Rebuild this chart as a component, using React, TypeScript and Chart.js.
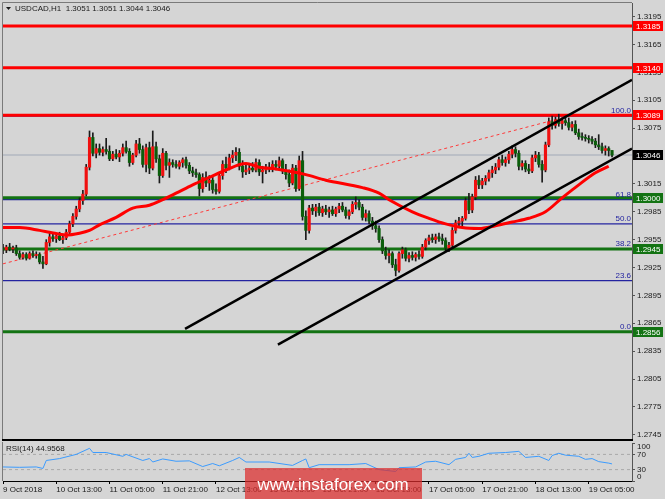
import React, { useEffect, useRef } from "react";
import { Chart, registerables } from "chart.js";

Chart.register(...registerables);

const FONT = '"Liberation Sans", Arial, sans-serif';
Chart.defaults.font.family = FONT;
Chart.defaults.font.size = 8;
Chart.defaults.color = "#1a1a1a";

// ---------------- DATA ----------------
const symbol = "USDCAD,H1";

const opens = [
  1.2946, 1.2944, 1.2947, 1.2945, 1.2946, 1.2940, 1.2936, 1.2939, 1.2935, 1.2940,
  1.2938, 1.2939, 1.2931, 1.2929, 1.2952, 1.2958, 1.2956, 1.2959, 1.2955, 1.2957,
  1.2963, 1.2972, 1.2980, 1.2988, 1.2997, 1.3004, 1.3033, 1.3065, 1.3048, 1.3053,
  1.3049, 1.3052, 1.3050, 1.3042, 1.3047, 1.3044, 1.3048, 1.3054, 1.3050, 1.3038,
  1.3046, 1.3058, 1.3052, 1.3036, 1.3054, 1.3032, 1.3055, 1.3042, 1.3024, 1.3048,
  1.3035, 1.3038, 1.3036, 1.3034, 1.3038, 1.3041, 1.3035, 1.3029, 1.3027, 1.3025,
  1.3010, 1.3022, 1.3016, 1.3019, 1.3009, 1.3007, 1.3024, 1.3036, 1.3032, 1.3043,
  1.3046, 1.3049, 1.3034, 1.3028, 1.3030, 1.3032, 1.3030, 1.3038, 1.3028, 1.3030,
  1.3033, 1.3031, 1.3036, 1.3034, 1.3040, 1.3029, 1.3025, 1.3016, 1.3032, 1.3010,
  1.3040, 1.2980, 1.2965, 1.2989, 1.2986, 1.2990, 1.2984, 1.2988, 1.2985, 1.2987,
  1.2983, 1.2988, 1.2991, 1.2987, 1.2981, 1.2985, 1.2993, 1.2995, 1.2990, 1.2979,
  1.2983, 1.2975, 1.2970, 1.2967, 1.2955, 1.2943, 1.2938, 1.2940, 1.2928, 1.2922,
  1.2940, 1.2944, 1.2935, 1.2938, 1.2936, 1.2939, 1.2937, 1.2947, 1.2954, 1.2957,
  1.2955, 1.2958, 1.2956, 1.2954, 1.2946, 1.2949, 1.2965, 1.2973, 1.2975, 1.2978,
  1.2997, 1.2987, 1.3001, 1.3019, 1.3014, 1.3018, 1.3021, 1.3027, 1.3030, 1.3033,
  1.3041, 1.3038, 1.3041, 1.3047, 1.3052, 1.3048, 1.3034, 1.3037, 1.3031, 1.3029,
  1.3043, 1.3046, 1.3036, 1.3030, 1.3057, 1.3082, 1.3078, 1.3084, 1.3080, 1.3083,
  1.3081, 1.3076, 1.3079, 1.3070, 1.3066, 1.3065, 1.3064, 1.3063, 1.3061, 1.3057,
  1.3055, 1.3051, 1.3053, 1.3051,
];
const highs = [
  1.2950, 1.2949, 1.2951, 1.2948, 1.2949, 1.2943, 1.2941, 1.2941, 1.2942, 1.2943,
  1.2942, 1.2941, 1.2937, 1.2955, 1.2962, 1.2962, 1.2961, 1.2963, 1.2960, 1.2966,
  1.2975, 1.2983, 1.2991, 1.3000, 1.3008, 1.3036, 1.3072, 1.3070, 1.3058, 1.3058,
  1.3055, 1.3064, 1.3056, 1.3050, 1.3052, 1.3051, 1.3058, 1.3061, 1.3053, 1.3048,
  1.3062, 1.3064, 1.3056, 1.3058, 1.3060, 1.3072, 1.3060, 1.3046, 1.3053, 1.3050,
  1.3042, 1.3041, 1.3040, 1.3040, 1.3043, 1.3044, 1.3038, 1.3033, 1.3031, 1.3027,
  1.3026, 1.3028, 1.3024, 1.3022, 1.3015, 1.3027, 1.3040, 1.3044, 1.3047, 1.3051,
  1.3054, 1.3053, 1.3040, 1.3035, 1.3036, 1.3038, 1.3042, 1.3041, 1.3034, 1.3036,
  1.3038, 1.3040, 1.3040, 1.3044, 1.3042, 1.3036, 1.3030, 1.3036, 1.3035, 1.3045,
  1.3050, 1.2986, 1.2992, 1.2993, 1.2993, 1.2994, 1.2991, 1.2992, 1.2990, 1.2991,
  1.2990, 1.2994, 1.2995, 1.2990, 1.2987, 1.2996, 1.3001, 1.2998, 1.2993, 1.2987,
  1.2986, 1.2979, 1.2975, 1.2970, 1.2958, 1.2947, 1.2944, 1.2942, 1.2934, 1.2942,
  1.2947, 1.2946, 1.2941, 1.2942, 1.2941, 1.2943, 1.2950, 1.2956, 1.2960, 1.2961,
  1.2961, 1.2962, 1.2961, 1.2957, 1.2952, 1.2968, 1.2976, 1.2979, 1.2980, 1.3000,
  1.3005, 1.3004, 1.3023, 1.3024, 1.3021, 1.3024, 1.3030, 1.3034, 1.3037, 1.3044,
  1.3046, 1.3044, 1.3050, 1.3056, 1.3055, 1.3051, 1.3040, 1.3040, 1.3036, 1.3046,
  1.3050, 1.3049, 1.3040, 1.3060, 1.3086, 1.3088, 1.3087, 1.3090, 1.3086, 1.3088,
  1.3086, 1.3082, 1.3083, 1.3074, 1.3070, 1.3068, 1.3067, 1.3066, 1.3064, 1.3068,
  1.3059, 1.3056, 1.3055, 1.3051,
];
const lows = [
  1.2940, 1.2941, 1.2943, 1.2941, 1.2938, 1.2934, 1.2934, 1.2933, 1.2934, 1.2936,
  1.2935, 1.2929, 1.2924, 1.2928, 1.2948, 1.2953, 1.2952, 1.2954, 1.2951, 1.2955,
  1.2960, 1.2969, 1.2977, 1.2985, 1.2993, 1.3002, 1.3030, 1.3045, 1.3043, 1.3046,
  1.3045, 1.3047, 1.3040, 1.3040, 1.3042, 1.3039, 1.3045, 1.3048, 1.3034, 1.3036,
  1.3044, 1.3048, 1.3033, 1.3028, 1.3026, 1.3030, 1.3038, 1.3016, 1.3022, 1.3030,
  1.3022, 1.3033, 1.3032, 1.3031, 1.3033, 1.3032, 1.3026, 1.3023, 1.3022, 1.3002,
  1.3006, 1.3012, 1.3008, 1.3005, 1.3004, 1.3005, 1.3020, 1.3027, 1.3030, 1.3038,
  1.3040, 1.3030, 1.3022, 1.3025, 1.3026, 1.3028, 1.3028, 1.3024, 1.3016, 1.3026,
  1.3028, 1.3028, 1.3030, 1.3030, 1.3026, 1.3020, 1.3012, 1.3014, 1.3007, 1.3008,
  1.2976, 1.2955, 1.2962, 1.2982, 1.2980, 1.2981, 1.2980, 1.2982, 1.2979, 1.2981,
  1.2980, 1.2984, 1.2985, 1.2978, 1.2977, 1.2983, 1.2988, 1.2987, 1.2976, 1.2975,
  1.2972, 1.2966, 1.2963, 1.2952, 1.2940, 1.2934, 1.2930, 1.2925, 1.2916, 1.2920,
  1.2935, 1.2932, 1.2931, 1.2933, 1.2932, 1.2934, 1.2935, 1.2944, 1.2950, 1.2952,
  1.2951, 1.2953, 1.2950, 1.2943, 1.2942, 1.2947, 1.2962, 1.2968, 1.2970, 1.2976,
  1.2983, 1.2984, 1.2998, 1.3010, 1.3010, 1.3014, 1.3018, 1.3022, 1.3026, 1.3030,
  1.3035, 1.3034, 1.3037, 1.3043, 1.3044, 1.3030, 1.3030, 1.3028, 1.3026, 1.3027,
  1.3039, 1.3033, 1.3017, 1.3028, 1.3055, 1.3074, 1.3075, 1.3077, 1.3074, 1.3078,
  1.3073, 1.3072, 1.3068, 1.3063, 1.3062, 1.3061, 1.3059, 1.3058, 1.3054, 1.3052,
  1.3048, 1.3046, 1.3045, 1.3044,
];
const closes = [
  1.2944, 1.2947, 1.2945, 1.2946, 1.2940, 1.2936, 1.2939, 1.2935, 1.2940, 1.2938,
  1.2939, 1.2931, 1.2929, 1.2952, 1.2958, 1.2956, 1.2959, 1.2955, 1.2957, 1.2963,
  1.2972, 1.2980, 1.2988, 1.2997, 1.3004, 1.3033, 1.3065, 1.3048, 1.3053, 1.3049,
  1.3052, 1.3050, 1.3042, 1.3047, 1.3044, 1.3048, 1.3054, 1.3050, 1.3038, 1.3046,
  1.3058, 1.3052, 1.3036, 1.3054, 1.3032, 1.3055, 1.3042, 1.3024, 1.3048, 1.3035,
  1.3038, 1.3036, 1.3034, 1.3038, 1.3041, 1.3035, 1.3029, 1.3027, 1.3025, 1.3010,
  1.3022, 1.3016, 1.3019, 1.3009, 1.3007, 1.3024, 1.3036, 1.3032, 1.3043, 1.3046,
  1.3049, 1.3034, 1.3028, 1.3030, 1.3032, 1.3030, 1.3038, 1.3028, 1.3030, 1.3033,
  1.3031, 1.3036, 1.3034, 1.3040, 1.3029, 1.3025, 1.3016, 1.3032, 1.3010, 1.3040,
  1.2980, 1.2965, 1.2989, 1.2986, 1.2990, 1.2984, 1.2988, 1.2985, 1.2987, 1.2983,
  1.2988, 1.2991, 1.2987, 1.2981, 1.2985, 1.2993, 1.2995, 1.2990, 1.2979, 1.2983,
  1.2975, 1.2970, 1.2967, 1.2955, 1.2943, 1.2938, 1.2940, 1.2928, 1.2922, 1.2940,
  1.2944, 1.2935, 1.2938, 1.2936, 1.2939, 1.2937, 1.2947, 1.2954, 1.2957, 1.2955,
  1.2958, 1.2956, 1.2954, 1.2946, 1.2949, 1.2965, 1.2973, 1.2975, 1.2978, 1.2997,
  1.2987, 1.3001, 1.3019, 1.3014, 1.3018, 1.3021, 1.3027, 1.3030, 1.3033, 1.3041,
  1.3038, 1.3041, 1.3047, 1.3052, 1.3048, 1.3034, 1.3037, 1.3031, 1.3029, 1.3043,
  1.3046, 1.3036, 1.3030, 1.3057, 1.3082, 1.3078, 1.3084, 1.3080, 1.3083, 1.3081,
  1.3076, 1.3079, 1.3070, 1.3066, 1.3065, 1.3064, 1.3063, 1.3061, 1.3057, 1.3055,
  1.3051, 1.3053, 1.3051, 1.3046,
];

const timeTickIdx = [0, 16, 32, 48, 64, 80, 96, 112, 128, 144, 160, 176];
const timeLabels = [
  "9 Oct 2018", "10 Oct 13:00", "11 Oct 05:00", "11 Oct 21:00", "12 Oct 13:00", "15 Oct 05:00",
  "15 Oct 21:00", "16 Oct 13:00", "17 Oct 05:00", "17 Oct 21:00", "18 Oct 13:00", "19 Oct 05:00",
];

const priceTicks = [
  1.2745, 1.2775, 1.2805, 1.2835, 1.2865, 1.2895, 1.2925, 1.2955, 1.2985, 1.3015,
  1.3075, 1.3105, 1.3135, 1.3165, 1.3195,
];

const redLevels = [1.3185, 1.3140, 1.3089];
const greenLevels = [1.3000, 1.2945, 1.2856];
const fibLevels = [1.3088, 1.2998, 1.2972, 1.2945, 1.2911, 1.2856];
const fibLabels = ["100.0", "61.8", "50.0", "38.2", "23.6", "0.0"];
const bidPrice = 1.3046;

const maIdx = [0, 5, 11, 14, 19, 23, 26, 29, 34, 39, 44, 48, 52, 57, 62, 67, 73, 77, 82, 87, 91, 97, 108, 113, 116, 123, 128, 133, 138, 143, 148, 153, 158, 163, 168, 173, 178, 182];
const maVal = [1.2968, 1.2968, 1.2965, 1.2963, 1.2960, 1.2962, 1.2965, 1.2971, 1.2979, 1.2989, 1.2992, 1.2998, 1.3005, 1.3014, 1.3022, 1.3030, 1.3037, 1.3033, 1.3031, 1.3028, 1.3025, 1.3019, 1.3011, 1.3005, 1.2998, 1.2985, 1.2978, 1.2972, 1.2968, 1.2967, 1.2970, 1.2974, 1.2978, 1.2985, 1.3000, 1.3014, 1.3027, 1.3034];

const upperChannelIdx = [54.7, 189];
const upperChannelVal = [1.2859, 1.3127];
const lowerChannelIdx = [82.6, 189];
const lowerChannelVal = [1.2842, 1.3053];
const fibTrendIdx = [0, 168];
const fibTrendVal = [1.2929, 1.3086];

const rsiIdx = [0, 5, 10, 12, 13, 17, 22, 26, 27, 31, 36, 37, 42, 44, 45, 48, 52, 56, 60, 63, 65, 69, 71, 73, 80, 87, 90, 91, 92, 95, 104, 109, 113, 118, 119, 124, 127, 130, 134, 136, 139, 140, 141, 143, 146, 151, 155, 157, 161, 164, 165, 167, 169, 173, 175, 177, 179, 182, 183];
const rsiVal = [37, 36, 37, 33, 54, 59, 70, 86, 75, 75, 65, 70, 54, 59, 50, 58, 52, 53, 38, 46, 40, 54, 62, 50, 50, 41, 54, 58, 35, 43, 43, 46, 30, 25, 35, 37, 50, 52, 43, 57, 62, 73, 62, 65, 73, 75, 78, 62, 65, 54, 67, 73, 68, 65, 57, 59, 51, 47, 44.96];
const rsiLevels = [70, 30];
const rsiTicks = [100, 70, 30, 0];
const rsiTitle = "RSI(14) 44.9568";
const watermark = "www.instaforex.com";

// ---------------- STYLE ----------------
const BG = "#d5d5d5";
const UP = "#f01010";
const DOWN = "#0b5e0b";
const WICK = "#1a1a1a";
const RED = "#ff0000";
const GREEN = "#137313";
const FIB = "#2424a0";
const AXIS = "#555555";
const X_MIN = 0;
const X_MAX = 189;
const Y_MIN = 1.27394;
const Y_MAX = 1.32097;

const pts = (xs: number[], ys: number[]) => xs.map((x, i) => ({ x, y: ys[i] }));
const hl = (v: number) => [{ x: X_MIN, y: v }, { x: X_MAX, y: v }];
const lineDs = (label: string, data: any[], color: string, width: number, order: number, extra: any = {}) => ({
  type: "line",
  label,
  data,
  borderColor: color,
  borderWidth: width,
  pointRadius: 0,
  fill: false,
  order,
  ...extra,
});

const mainPlugin = {
  id: "mainDecor",
  beforeDraw(chart: any) {
    const { ctx, width, height } = chart;
    ctx.save();
    ctx.fillStyle = BG;
    ctx.fillRect(0, 0, width, height);
    ctx.restore();
  },
  afterDatasetsDraw(chart: any) {
    const { ctx, chartArea } = chart;
    const ys = chart.scales.y;
    ctx.save();
    ctx.font = `8px ${FONT}`;
    ctx.fillStyle = FIB;
    ctx.textAlign = "right";
    ctx.textBaseline = "bottom";
    fibLevels.forEach((v, i) => {
      ctx.fillText(fibLabels[i], chartArea.right - 1, ys.getPixelForValue(v) - 1);
    });
    ctx.restore();
  },
  afterDraw(chart: any) {
    const { ctx, chartArea } = chart;
    const ys = chart.scales.y;
    ctx.save();
    // frame
    ctx.strokeStyle = "#7a7a7a";
    ctx.lineWidth = 1;
    ctx.beginPath();
    ctx.moveTo(2.5, chartArea.bottom);
    ctx.lineTo(2.5, 2.5);
    ctx.lineTo(chartArea.right, 2.5);
    ctx.stroke();
    ctx.strokeStyle = "#000";
    ctx.lineWidth = 2;
    ctx.beginPath();
    ctx.moveTo(2, chartArea.bottom);
    ctx.lineTo(chartArea.right + 1, chartArea.bottom);
    ctx.stroke();
    // price boxes
    ctx.font = `8px ${FONT}`;
    ctx.textBaseline = "middle";
    ctx.textAlign = "left";
    const box = (v: number, bg: string) => {
      const y = ys.getPixelForValue(v);
      ctx.fillStyle = bg;
      ctx.fillRect(chartArea.right + 1, Math.round(y) - 5, 30, 10);
      ctx.fillStyle = "#ffffff";
      ctx.fillText(v.toFixed(4), chartArea.right + 4, Math.round(y) + 0.5);
    };
    redLevels.forEach((v) => box(v, RED));
    greenLevels.forEach((v) => box(v, GREEN));
    box(bidPrice, "#000000");
    // header
    const last = closes.length - 1;
    ctx.fillStyle = "#1a1a1a";
    ctx.beginPath();
    ctx.moveTo(6, 7);
    ctx.lineTo(11, 7);
    ctx.lineTo(8.5, 10);
    ctx.closePath();
    ctx.fill();
    ctx.textBaseline = "middle";
    ctx.fillText(
      `${symbol}  ${opens[last].toFixed(4)} ${highs[last].toFixed(4)} ${lows[last].toFixed(4)} ${closes[last].toFixed(4)}`,
      15,
      8.5
    );
    ctx.restore();
  },
};

const rsiPlugin = {
  id: "rsiDecor",
  beforeDraw(chart: any) {
    const { ctx, width, height } = chart;
    ctx.save();
    ctx.fillStyle = BG;
    ctx.fillRect(0, 0, width, height);
    ctx.restore();
  },
  afterDraw(chart: any) {
    const { ctx, chartArea } = chart;
    const ys = chart.scales.y;
    ctx.save();
    ctx.strokeStyle = "#7a7a7a";
    ctx.lineWidth = 1;
    ctx.beginPath();
    ctx.moveTo(2.5, chartArea.bottom);
    ctx.lineTo(2.5, 0);
    ctx.stroke();
    ctx.font = `8px ${FONT}`;
    ctx.fillStyle = "#1a1a1a";
    ctx.textBaseline = "middle";
    ctx.textAlign = "left";
    ctx.fillText(rsiTitle, 6, 7);
    rsiTicks.forEach((v) => {
      const y = Math.min(Math.max(ys.getPixelForValue(v), chartArea.top + 4), chartArea.bottom - 4);
      ctx.fillText(String(v), chartArea.right + 5, y);
    });
    // watermark
    ctx.fillStyle = "rgba(222, 45, 45, 0.72)";
    ctx.fillRect(245, 26, 177, 31);
    ctx.fillStyle = "#ffffff";
    ctx.font = `17px ${FONT}`;
    ctx.textAlign = "center";
    ctx.textBaseline = "alphabetic";
    ctx.fillText(watermark, 333, 48);
    ctx.restore();
  },
};

function mainConfig(): any {
  const bodyColors = closes.map((c, i) => (c >= opens[i] ? UP : DOWN));
  const datasets: any[] = [
    lineDs("upper channel", pts(upperChannelIdx, upperChannelVal), "#000000", 2.5, 0),
    lineDs("lower channel", pts(lowerChannelIdx, lowerChannelVal), "#000000", 2.5, 0),
    lineDs("MA", pts(maIdx, maVal), RED, 3, 1, { tension: 0.4, cubicInterpolationMode: "monotone" }),
    {
      type: "bar",
      label: "bodies",
      data: opens.map((o, i) => ({ x: i, y: [o, closes[i]] })),
      backgroundColor: bodyColors,
      barThickness: 2.5,
      grouped: false,
      minBarLength: 1,
      order: 2,
    },
    {
      type: "bar",
      label: "wicks",
      data: lows.map((l, i) => ({ x: i, y: [l, highs[i]] })),
      backgroundColor: WICK,
      barThickness: 1,
      grouped: false,
      order: 3,
    },
    lineDs("fib trend", pts(fibTrendIdx, fibTrendVal), "#ff3a3a", 1, 4, { borderDash: [3, 3] }),
    ...redLevels.map((v) => lineDs("res " + v, hl(v), RED, 3, 5)),
    ...greenLevels.map((v) => lineDs("sup " + v, hl(v), GREEN, 3, 5)),
    ...fibLevels.map((v, i) => lineDs("fib " + fibLabels[i], hl(v), FIB, 1.2, 6)),
    lineDs("bid", hl(bidPrice), "#b2b7c0", 1.5, 7),
  ];
  return {
    type: "bar",
    data: { datasets },
    options: {
      responsive: false,
      maintainAspectRatio: false,
      animation: false,
      events: [],
      layout: { padding: { left: 3, top: 3, right: 0, bottom: 2 } },
      plugins: { legend: { display: false }, tooltip: { enabled: false } },
      scales: {
        x: {
          type: "linear",
          min: X_MIN,
          max: X_MAX,
          offset: false,
          bounds: "data",
          display: false,
          grid: { offset: false },
        },
        y: {
          type: "linear",
          position: "right",
          min: Y_MIN,
          max: Y_MAX,
          bounds: "data",
          afterFit: (s: any) => {
            s.width = 33;
            s.paddingTop = 0;
            s.paddingBottom = 0;
          },
          afterBuildTicks: (s: any) => {
            s.ticks = priceTicks.map((v) => ({ value: v }));
          },
          ticks: {
            autoSkip: false,
            padding: 2,
            color: "#1a1a1a",
            font: { family: FONT, size: 8 },
            callback: (v: any) => Number(v).toFixed(4),
          },
          grid: { drawOnChartArea: false, drawTicks: true, tickLength: 3, color: AXIS },
          border: { display: true, color: AXIS, width: 1 },
        },
      },
    },
    plugins: [mainPlugin],
  };
}

function rsiConfig(): any {
  const datasets: any[] = [
    lineDs("RSI", pts(rsiIdx, rsiVal), "#3c9cff", 1, 0),
    ...rsiLevels.map((v) => lineDs("lvl " + v, hl(v), "#a9a9a9", 1, 1, { borderDash: [3, 3] })),
  ];
  return {
    type: "line",
    data: { datasets },
    options: {
      responsive: false,
      maintainAspectRatio: false,
      animation: false,
      events: [],
      layout: { padding: { left: 3, top: 1, right: 0, bottom: 0 } },
      plugins: { legend: { display: false }, tooltip: { enabled: false } },
      scales: {
        x: {
          type: "linear",
          min: X_MIN,
          max: X_MAX,
          offset: false,
          bounds: "data",
          position: "bottom",
          afterFit: (s: any) => {
            s.height = 18;
            s.paddingLeft = 0;
            s.paddingRight = 0;
          },
          afterBuildTicks: (s: any) => {
            s.ticks = timeTickIdx.map((v) => ({ value: v }));
          },
          ticks: {
            autoSkip: false,
            maxRotation: 0,
            align: "start",
            padding: 1,
            color: "#1a1a1a",
            font: { family: FONT, size: 8 },
            callback: (_v: any, idx: number) => timeLabels[idx],
          },
          grid: { drawOnChartArea: false, drawTicks: true, tickLength: 3, color: "#000" },
          border: { display: true, color: "#000", width: 1 },
        },
        y: {
          type: "linear",
          position: "right",
          min: 0,
          max: 100,
          bounds: "data",
          afterFit: (s: any) => {
            s.width = 33;
            s.paddingTop = 0;
            s.paddingBottom = 0;
          },
          afterBuildTicks: (s: any) => {
            s.ticks = rsiTicks.map((v) => ({ value: v }));
          },
          ticks: { display: false },
          grid: { drawOnChartArea: false, drawTicks: true, tickLength: 3, color: AXIS },
          border: { display: true, color: AXIS, width: 1 },
        },
      },
    },
    plugins: [rsiPlugin],
  };
}

export default function App() {
  const mainRef = useRef<HTMLCanvasElement>(null);
  const rsiRef = useRef<HTMLCanvasElement>(null);
  useEffect(() => {
    const main = new Chart(mainRef.current as HTMLCanvasElement, mainConfig());
    const rsi = new Chart(rsiRef.current as HTMLCanvasElement, rsiConfig());
    return () => {
      main.destroy();
      rsi.destroy();
    };
  }, []);
  return (
    <div style={{ position: "fixed", left: 0, top: 0, width: 665, height: 499, background: BG, overflow: "hidden" }}>
      <canvas ref={mainRef} width={665} height={442} style={{ position: "absolute", left: 0, top: 0, width: 665, height: 442 }} />
      <canvas ref={rsiRef} width={665} height={57} style={{ position: "absolute", left: 0, top: 442, width: 665, height: 57 }} />
    </div>
  );
}
